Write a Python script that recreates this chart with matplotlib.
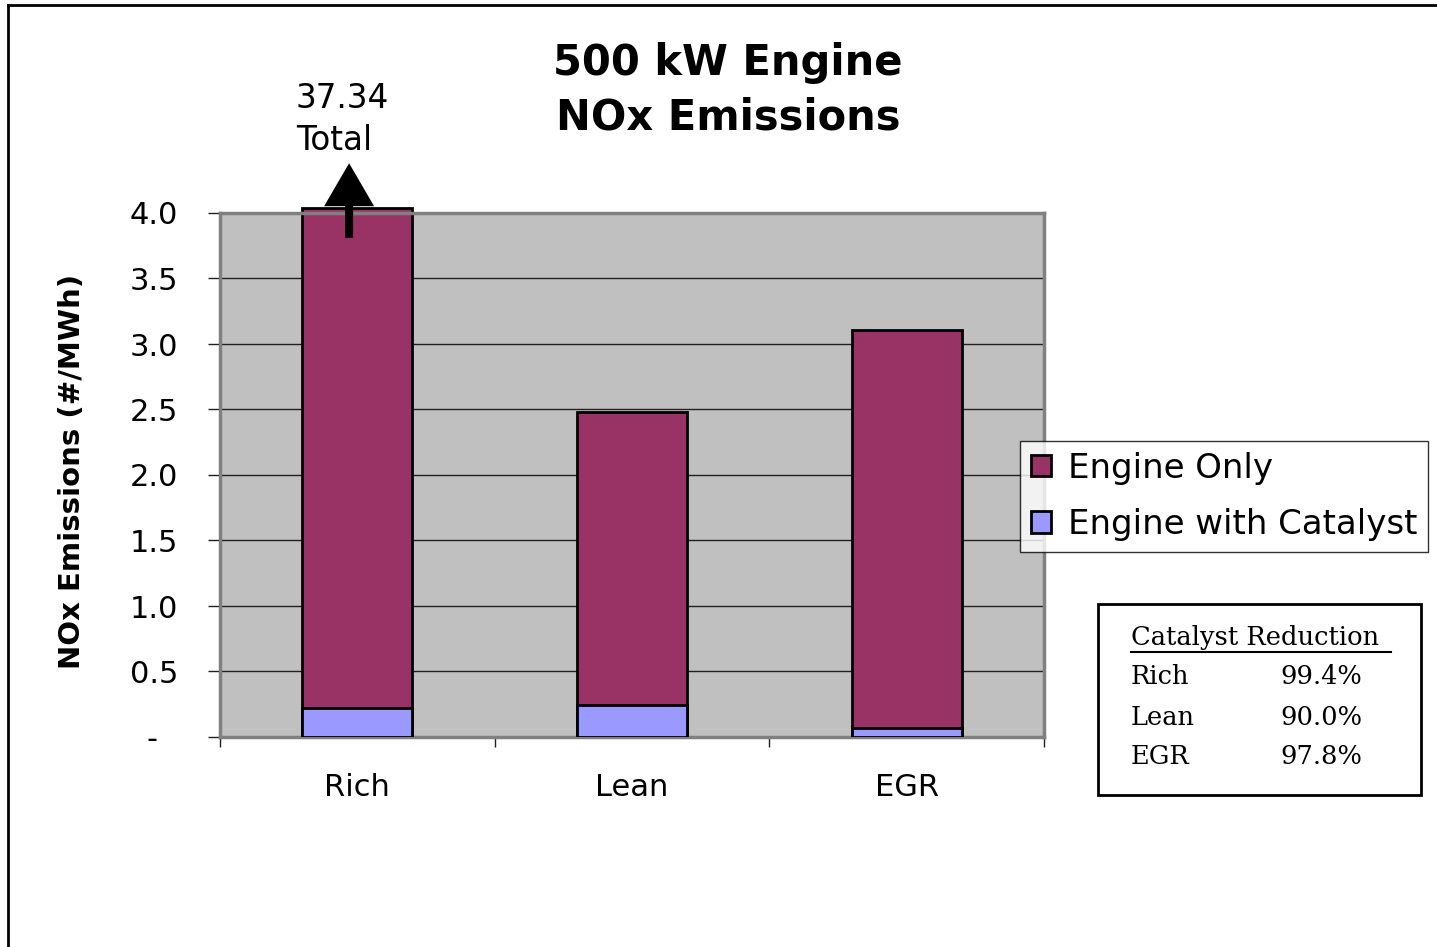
#!/usr/bin/env python3
"""500 kW engine NOx emissions, engine only vs engine with catalyst."""

import matplotlib
matplotlib.use("Agg")
import matplotlib.pyplot as plt
from matplotlib.lines import Line2D
from matplotlib.patches import Rectangle

# Data
categories = ["Rich", "Lean", "EGR"]
engine_only = [37.34, 2.48, 3.11]          # #/MWh (Rich runs off the chart)
with_catalyst = [0.22, 0.248, 0.068]       # #/MWh
reduction_pct = [99.4, 90.0, 97.8]         # catalyst reduction, %
y_ticks = [0.0, 0.5, 1.0, 1.5, 2.0, 2.5, 3.0, 3.5, 4.0]
y_tick_labels = ["-  ", "0.5", "1.0", "1.5", "2.0", "2.5", "3.0", "3.5", "4.0"]

W, H = 1437, 947
PT = 72 / 100  # points per pixel at dpi 100
plt.rcParams["font.family"] = ["DejaVu Sans"]

fig = plt.figure(figsize=(W / 100, H / 100), dpi=100)
fig.patch.set_facecolor("white")


def fx(px):
    return px / W


def fy(py):
    return 1 - py / H


ax = fig.add_axes([fx(220), fy(737), fx(1044) - fx(220), fy(213) - fy(737)])
ax.set_facecolor("#C0C0C0")
ax.set_xlim(-0.5, 2.5)
ax.set_ylim(0, 4.0)

# gridlines
for t in y_ticks[1:-1]:
    ax.axhline(t, color="#202020", lw=1.0, zorder=1)

x = range(len(categories))
cap_top = 4.04  # bar drawn just past the frame where it is cut off
shown = [min(v, cap_top) for v in engine_only]
ax.bar(x, shown, width=0.4, color="#993366", edgecolor="black",
       linewidth=2, zorder=2, clip_on=False, label="Engine Only")
ax.bar(x, with_catalyst, width=0.4, color="#9999FF", edgecolor="black",
       linewidth=2, zorder=3, label="Engine with Catalyst")

for s in ax.spines.values():
    s.set_color("#808080")
    s.set_linewidth(2.5)

ax.set_yticks(y_ticks)
ax.set_yticklabels(y_tick_labels, fontsize=22)
ax.tick_params(axis="y", length=12 * PT, width=1, color="#202020",
               pad=30 * PT)
ax.set_xticks([-0.5, 0.5, 1.5, 2.5])
ax.set_xticklabels([])
ax.set_xticks(list(x), minor=True)
ax.set_xticklabels(categories, minor=True, fontsize=22)
ax.tick_params(axis="x", which="major", length=10 * PT, width=1,
               color="#202020")
ax.tick_params(axis="x", which="minor", length=0, pad=36 * PT)

fig.text(fx(72), fy(471), "NOx Emissions (#/MWh)", fontsize=21,
         fontweight="bold", rotation=90, ha="center", va="center")

fig.text(fx(728), fy(63), "500 kW Engine", fontsize=30,
         fontweight="bold", ha="center", va="center")
fig.text(fx(728), fy(118), "NOx Emissions", fontsize=30,
         fontweight="bold", ha="center", va="center")

# off-scale arrow for the Rich bar
ax.annotate("", xy=(-0.03, 4.38), xytext=(-0.03, 3.81),
            arrowprops=dict(arrowstyle="simple,head_width=1.0,"
                                       "head_length=0.86,tail_width=0.16",
                            mutation_scale=36, fc="black", ec="none", lw=0,
                            shrinkA=0, shrinkB=0),
            annotation_clip=False, zorder=5)
fig.text(fx(296), fy(98), f"{engine_only[0]:.2f}", fontsize=23.5,
         ha="left", va="center")
fig.text(fx(296), fy(141), "Total", fontsize=23.5, ha="left", va="center")

# legend
leg = fig.legend(loc="upper left", bbox_to_anchor=(fx(1020), fy(441)),
                 borderaxespad=0, fontsize=24.5, frameon=True, fancybox=False,
                 handlelength=0.58, handleheight=0.58, handletextpad=0.5,
                 labelspacing=0.68, borderpad=0.32)
leg.get_frame().set_edgecolor("black")
leg.get_frame().set_linewidth(1)

# catalyst reduction box
fig.patches.append(Rectangle((fx(1098), fy(795)), fx(1421) - fx(1098),
                             fy(604) - fy(795), transform=fig.transFigure,
                             fill=False, edgecolor="black", lw=2))
serif = ["DejaVu Serif"]
fig.text(fx(1131), fy(637), "Catalyst Reduction", fontsize=18.5,
         family=serif, ha="left", va="center")
fig.lines.append(Line2D([fx(1131), fx(1391)], [fy(652), fy(652)],
                        transform=fig.transFigure, color="black", lw=1.5))
for i, (cat, pct) in enumerate(zip(categories, reduction_pct)):
    yy = 677 + 40 * i
    fig.text(fx(1131), fy(yy), cat, fontsize=18.5, family=serif,
             ha="left", va="center")
    fig.text(fx(1362), fy(yy), f"{pct:.1f}%", fontsize=18.5, family=serif,
             ha="right", va="center")

# outer frame (cut off at right and bottom)
fig.lines.append(Line2D([fx(8), 1], [fy(5), fy(5)], transform=fig.transFigure,
                        color="black", lw=2))
fig.lines.append(Line2D([fx(8), fx(8)], [fy(5), 0], transform=fig.transFigure,
                        color="black", lw=2))

fig.savefig("out.png", dpi=100)
